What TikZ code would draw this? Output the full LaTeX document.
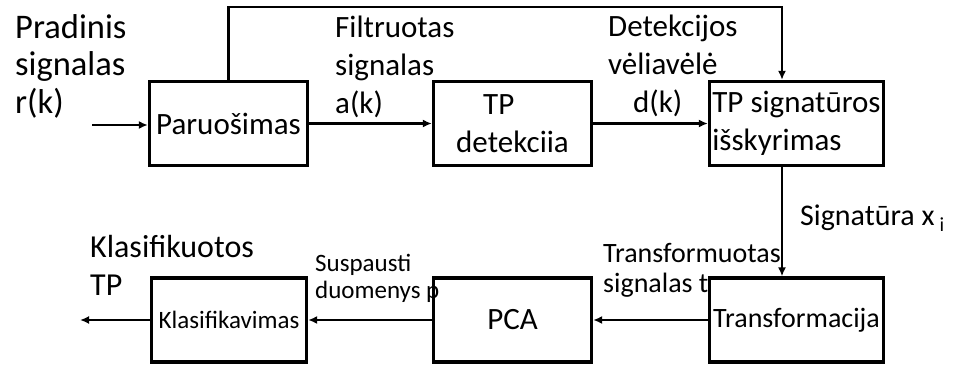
\documentclass[tikz,border=0pt]{standalone}
\usepackage{fontspec}
\setmainfont{Carlito}
\usetikzlibrary{arrows.meta,positioning}

\newcommand{\bigtxt}{\fontsize{31}{38}\selectfont}
\newcommand{\midtxt}{\fontsize{28}{30}\selectfont}
\newcommand{\smalltxt}{\fontsize{25}{27}\selectfont}

\begin{document}
\begin{tikzpicture}[
    x=1pt, y=-1pt,
    box/.style={rectangle, draw, line width=3.3pt, minimum width=158pt, minimum height=84pt, align=center, inner sep=0pt, font=\bigtxt},
    arrow/.style={-{Latex[length=9pt,width=8pt]}, line width=2.4pt},
    label/.style={anchor=base west, align=left, inner sep=0pt, font=\bigtxt}
]
\useasboundingbox (0,0) rectangle (954,367);

% top row
\node[box] (prep) at (228.5,123.5) {Paruošimas};
\node[box, align=left] (det) at (512.5,123.5) {\hspace*{27pt}TP\\detekciia};
\node[box, minimum width=174pt, align=left] (sig) at (796.5,123.5) {TP signatūros\\išskyrimas};

% bottom row
\node[box, minimum width=155pt, font=\smalltxt] (klas) at (229,320) {Klasifikavimas};
\node[box] (pca) at (512.5,320) {PCA};
\node[box, minimum width=174pt, font=\midtxt] (trans) at (796.5,320) {Transformacija};

% free ends
\coordinate (in) at (92,125);
\coordinate (out) at (80,320);

% signal flow
\draw[arrow] (in) -- (in -| prep.west);
\draw[arrow] (prep) -- (det);
\draw[arrow] (det) -- (sig);
\draw[arrow] (prep.north) -- ++(0,-73) -| ([xshift=-14.5pt]sig.north);
\draw[arrow] ([xshift=-14.5pt]sig.south) -- ([xshift=-14.5pt]trans.north);
\draw[arrow] (trans) -- (pca);
\draw[arrow] (pca) -- (klas);
\draw[arrow] (klas.west) -- (out);

% signal names (base = last line)
\node[label, font=\fontsize{34.5}{37.5}\selectfont] (rk) at (15,113) {Pradinis\\signalas\\r(k)};
\node[label] (ak) at (335,113) {Filtruotas\\signalas\\a(k)};
\node[label] (dk) at (608,112) {Detekcijos\\vėliavėlė\\\hspace*{25pt}d(k)};
\node[label, font=\fontsize{30}{34}\selectfont] (xi) at (800,225) {Signatūra x\,\raisebox{-6pt}{\fontsize{20}{20}\selectfont i}};
\node[label, font=\midtxt] (tt) at (603,292) {Transformuotas\\signalas t};
\node[label, font=\smalltxt] (pp) at (315,298) {Suspausti\\duomenys p};
\node[label, font=\fontsize{32}{38}\selectfont] (tp) at (90,295) {Klasifikuotos\\TP};

\end{tikzpicture}
\end{document}
